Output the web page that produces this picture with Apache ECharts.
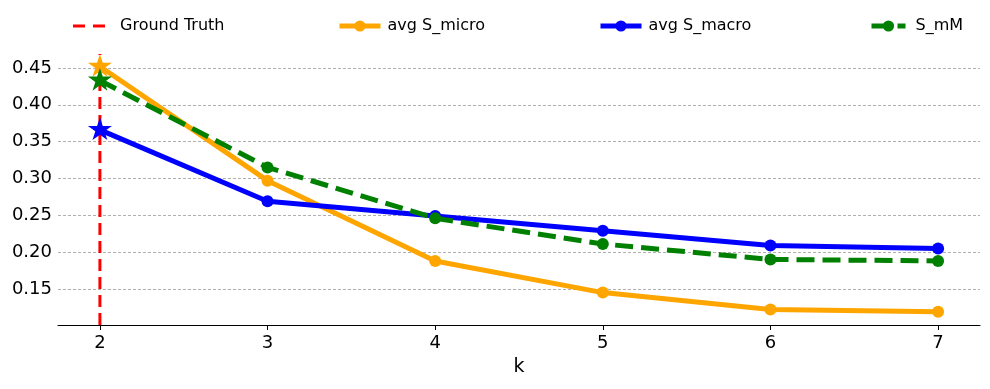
<!DOCTYPE html>
<html>
<head>
<meta charset="utf-8">
<script src="https://cdn.jsdelivr.net/npm/echarts@6/dist/echarts.min.js"></script>
<style>html,body{margin:0;padding:0;background:#fff}#c{width:990px;height:389px}</style>
</head>
<body>
<div id="c"></div>
<script>
const kValues = [2, 3, 4, 5, 6, 7];
const sMicro = [0.452, 0.297, 0.188, 0.145, 0.122, 0.119];
const sMacro = [0.366, 0.269, 0.249, 0.229, 0.209, 0.205];
const sMM = [0.433, 0.315, 0.246, 0.211, 0.190, 0.188];
const groundTruthK = 2;
const xTicks = [2, 3, 4, 5, 6, 7];
const yTicks = [0.15, 0.20, 0.25, 0.30, 0.35, 0.40, 0.45];
const yMin = 0.101, yMax = 0.469;
const xMin = 1.75, xMax = 7.25;

const STAR = 'path://M50 0 L61.23 34.55 L97.55 34.55 L68.17 55.9 L79.39 90.45 L50 69.1 L20.61 90.45 L31.83 55.9 L2.45 34.55 L38.77 34.55 Z';
const GT_ICON = 'path://M0 0 H12 V3 H0 Z M20 0 H32 V3 H20 Z';
const FONT = 'DejaVu Sans';

function pts(vals) {
  return kValues.map((k, i) => {
    const d = { value: [k, vals[i]] };
    if (k === groundTruthK) {
      d.symbol = STAR; d.symbolSize = 24; d.symbolKeepAspect = true; d.symbolOffset = [0, -1.2];
    }
    return d;
  });
}

const chart = echarts.init(document.getElementById('c'), null, { renderer: 'canvas' });
const txt = (pad) => ({ fontFamily: FONT, fontSize: 16, color: '#000', padding: [0, 0, 0, pad] });
const legendBase = { top: 18, padding: 0, itemHeight: 14, orient: 'horizontal' };
chart.setOption({
  animation: false,
  backgroundColor: '#fff',
  legend: [
    Object.assign({}, legendBase, { left: 73, itemWidth: 32, itemHeight: 3, top: 18,
      data: [{ name: 'Ground Truth', icon: GT_ICON }], itemStyle: { color: '#ff0000' }, textStyle: txt(10) }),
    Object.assign({}, legendBase, { left: 337, itemWidth: 41, data: ['avg S_micro'], lineStyle: { width: 5 }, textStyle: txt(2) }),
    Object.assign({}, legendBase, { left: 598, itemWidth: 41, data: ['avg S_macro'], lineStyle: { width: 5 }, textStyle: txt(2) }),
    Object.assign({}, legendBase, { left: 869, itemWidth: 34, data: ['S_mM'], lineStyle: { width: 5 }, textStyle: txt(5) })
  ],
  grid: { left: 58, right: 10, top: 54, bottom: 64, containLabel: false },
  xAxis: {
    type: 'value', min: xMin, max: xMax,
    name: 'k', nameLocation: 'middle', nameGap: 33,
    nameTextStyle: { fontFamily: FONT, fontSize: 19, color: '#000' },
    axisLine: { show: true, onZero: false, lineStyle: { color: '#000', width: 1 } },
    axisTick: { show: true, customValues: xTicks, length: 5, lineStyle: { color: '#000' } },
    axisLabel: { customValues: xTicks, fontFamily: FONT, fontSize: 18, color: '#000', margin: 9 },
    splitLine: { show: false }
  },
  yAxis: {
    type: 'value', min: yMin, max: yMax,
    axisLine: { show: false },
    axisTick: { show: false, customValues: yTicks },
    axisLabel: { customValues: yTicks, fontFamily: FONT, fontSize: 18, color: '#000', margin: 6,
      formatter: v => v.toFixed(2) },
    splitLine: { show: true, lineStyle: { color: '#b0b0b0', width: 1, type: [3, 2] } }
  },
  series: [
    {
      name: 'Ground Truth', type: 'line', symbol: 'none', z: 1,
      data: [[groundTruthK, yMin], [groundTruthK, yMax]],
      lineStyle: { color: '#ff0000', width: 3, type: [12, 6] },
      itemStyle: { color: '#ff0000' }
    },
    {
      name: 'avg S_micro', type: 'line', symbol: 'circle', symbolSize: 12, z: 2,
      data: pts(sMicro),
      lineStyle: { color: '#ffa500', width: 5 },
      itemStyle: { color: '#ffa500' }
    },
    {
      name: 'avg S_macro', type: 'line', symbol: 'circle', symbolSize: 12, z: 3,
      data: pts(sMacro),
      lineStyle: { color: '#0000ff', width: 5 },
      itemStyle: { color: '#0000ff' }
    },
    {
      name: 'S_mM', type: 'line', symbol: 'circle', symbolSize: 12, z: 4,
      data: pts(sMM),
      lineStyle: { color: '#008000', width: 5, type: [18, 8] },
      itemStyle: { color: '#008000' }
    }
  ]
});
</script>
</body>
</html>
